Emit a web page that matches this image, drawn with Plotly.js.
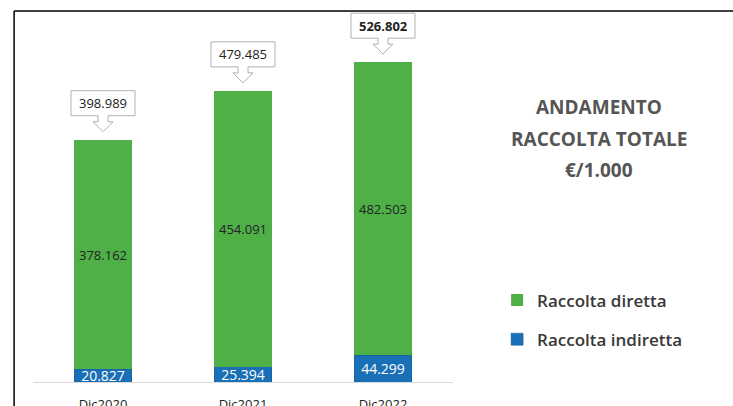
<!DOCTYPE html>
<html>
<head>
<meta charset="utf-8">
<script src="https://cdn.plot.ly/plotly-3.0.1.min.js"></script>
<style>html,body{margin:0;padding:0;background:#fff;}#chart{width:733px;height:406px;}</style>
</head>
<body>
<div id="chart"></div>
<script>
const categories = ["Dic2020", "Dic2021", "Dic2022"];
const raccoltaIndiretta = [20.827, 25.394, 44.299];
const raccoltaDiretta = [378.162, 454.091, 482.503];
const totali = [398.989, 479.485, 526.802];
const fmt = v => v.toFixed(3);

const green = "#50b048";
const blue = "#1a70b6";

const traces = [
  {
    type: "bar", name: "Raccolta indiretta", legendgroup: "b", legendrank: 2,
    x: categories, y: raccoltaIndiretta,
    marker: {color: blue, line: {color: "#0f5a98", width: 0.5}},
    text: raccoltaIndiretta.map(fmt), textposition: "inside", insidetextanchor: "middle",
    constraintext: "none",
    textfont: {color: "#ffffff", size: 14, family: "Open Sans"},
    width: 0.414, hoverinfo: "skip"
  },
  {
    type: "bar", name: "Raccolta diretta", legendgroup: "a", legendrank: 1,
    x: categories, y: raccoltaDiretta,
    marker: {color: green},
    text: raccoltaDiretta.map(fmt), textposition: "inside", insidetextanchor: "middle",
    constraintext: "none",
    textfont: {color: "#222222", size: 13, family: "Open Sans"},
    width: 0.414, hoverinfo: "skip"
  }
];

const calloutPath = "M -32,24 L -5,24 L -5,18 L -10,18 L 0,8 L 10,18 L 5,18 L 5,24 L 32,24 L 32,49 L -32,49 Z";
const shapes = categories.map((c, i) => ({
  type: "path", xref: "x", yref: "y",
  xsizemode: "pixel", ysizemode: "pixel",
  xanchor: c, yanchor: totali[i],
  path: calloutPath,
  fillcolor: "#ffffff", line: {color: "#b0b0b0", width: 1}, layer: "above"
}));
// frame lines
shapes.push({type: "line", xref: "paper", yref: "paper", x0: -0.045, x1: -0.045, y0: 1.0, y1: -0.1, line: {color: "#000", width: 1.5}});
shapes.push({type: "line", xref: "paper", yref: "paper", x0: -0.045, x1: 1.7, y0: 1.0, y1: 1.0, line: {color: "#000", width: 1.5}});

const annotations = categories.map((c, i) => ({
  x: c, y: totali[i], xref: "x", yref: "y", yshift: 36.5, showarrow: false,
  text: i === 2 ? "<b>" + fmt(totali[i]) + "</b>" : fmt(totali[i]),
  font: {size: 13, color: "#222", family: "Open Sans"}
}));
const titleLines = ["ANDAMENTO", "RACCOLTA TOTALE", "€/1.000"];
titleLines.forEach((t, k) => annotations.push({
  xref: "paper", yref: "paper", x: 1.347, y: 0.74 - k * 0.084,
  xanchor: "center", yanchor: "middle",
  showarrow: false, text: "<b>" + t + "</b>",
  font: {size: 19, color: "#555555", family: "Open Sans"}
}));

const layout = {
  width: 733, height: 406,
  margin: {l: 33, r: 280, t: 11, b: 24},
  paper_bgcolor: "#ffffff", plot_bgcolor: "#ffffff",
  barmode: "stack",
  showlegend: true,
  legend: {
    x: 1.105, y: 0.167, xanchor: "left", yanchor: "middle",
    traceorder: "grouped", tracegroupgap: 14,
    font: {size: 17, color: "#383838", family: "Open Sans", weight: 600},
    itemwidth: 30
  },
  xaxis: {
    type: "category", range: [-0.5, 2.5],
    showline: true, linecolor: "#d9d9d9", linewidth: 1,
    ticks: "outside", ticklen: 10, tickcolor: "rgba(0,0,0,0)",
    tickfont: {size: 13, color: "#222", family: "Open Sans"},
    showgrid: false, zeroline: false, fixedrange: true
  },
  yaxis: {range: [0, 611], visible: false, fixedrange: true},
  shapes: shapes,
  annotations: annotations,
  font: {family: "Open Sans"}
};

Plotly.newPlot("chart", traces, layout, {displayModeBar: false, staticPlot: true});
</script>
</body>
</html>
